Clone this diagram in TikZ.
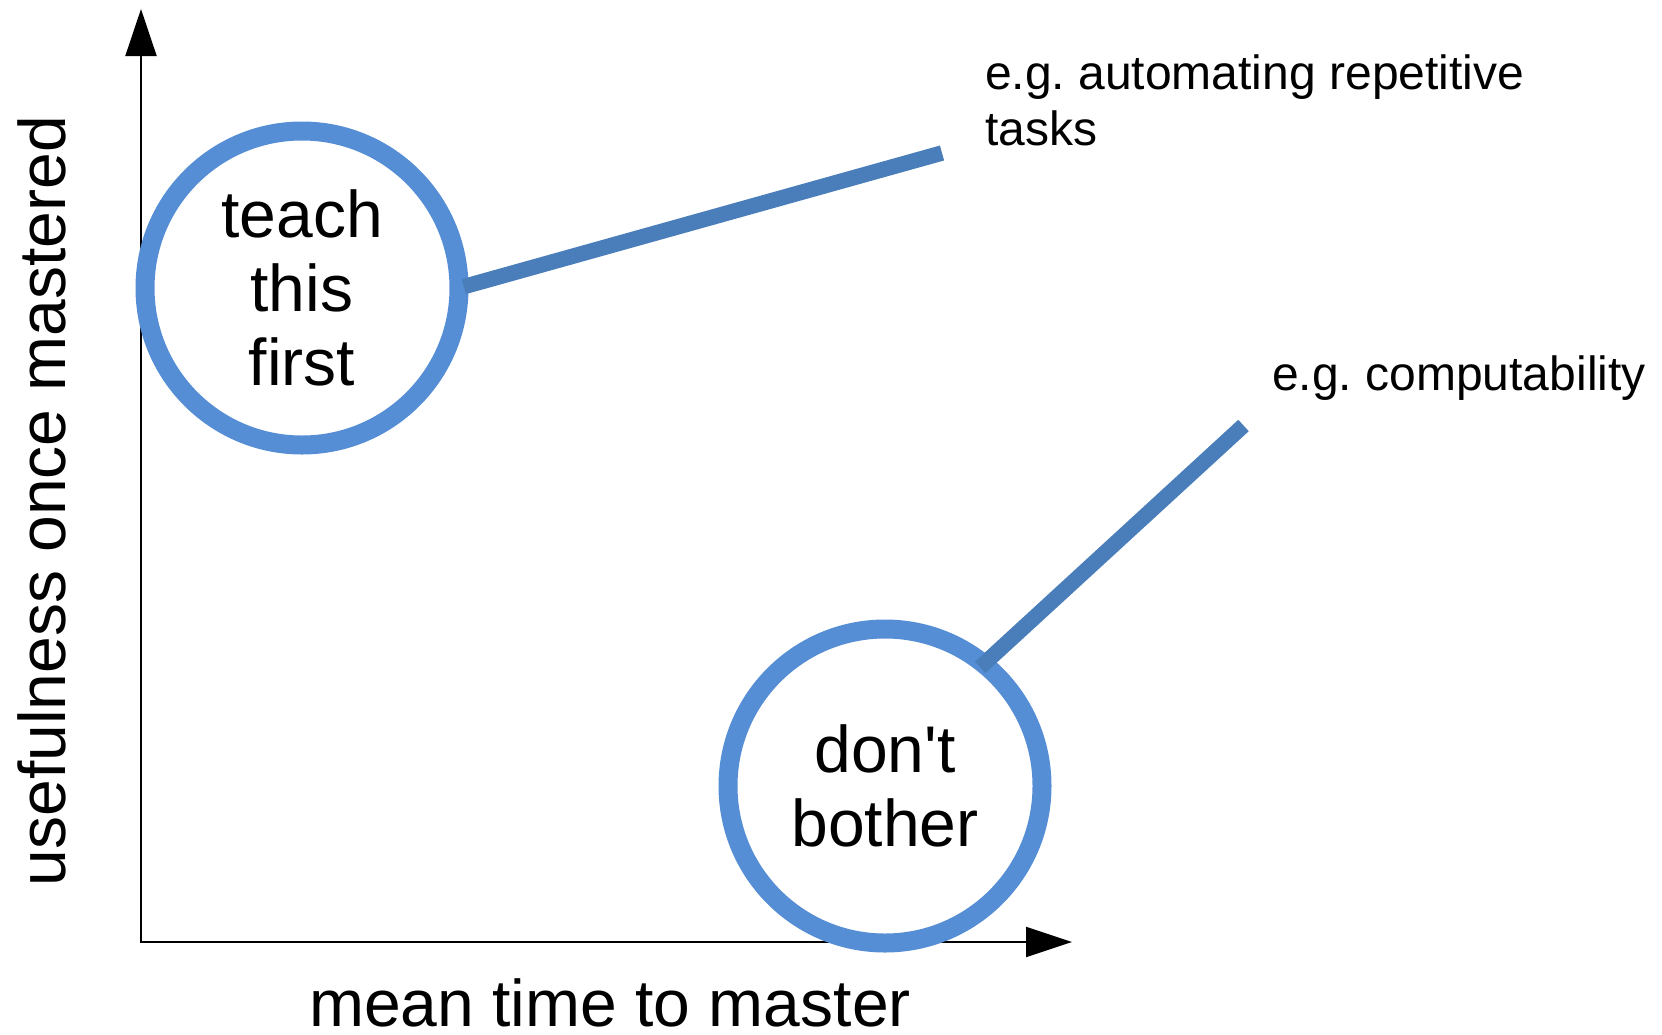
\documentclass[tikz,border=0pt]{standalone}
\usepackage{fontspec}
\setmainfont{Liberation Sans}
\usetikzlibrary{arrows.meta}
\definecolor{ringblue}{HTML}{558ED5}
\definecolor{leaderblue}{HTML}{4A7EBB}
\frenchspacing
\begin{document}
\begin{tikzpicture}[x=1pt,y=-1pt,
  axisline/.style={line width=2pt,
    {Triangle[length=47pt,width=31pt]}-{Triangle[length=46pt,width=30pt]}},
  ring/.style={circle, draw=ringblue, line width=19pt, fill=white,
    minimum size=314pt, inner sep=0pt, outer sep=0pt, align=center,
    font=\fontsize{66}{74}\selectfont},
  leader/.style={draw=leaderblue, line width=15.5pt},
  big/.style={font=\fontsize{66}{74}\selectfont, inner sep=0pt},
  note/.style={font=\fontsize{48}{56}\selectfont, inner sep=0pt, align=left}]
\useasboundingbox (0,0) rectangle (1662,1034);

% axes
\coordinate (O) at (141,942);
\coordinate (ytip) at (141,9);
\coordinate (xtip) at (1072,942);
\draw[axisline] (ytip) -- (O) -- (xtip);

% axis labels
\node[big, rotate=90, anchor=base] (ylab) at (65,501) {usefulness once mastered};
\node[big, anchor=base] (xlab) at (610,1026) {mean time to master};

% the two regions
\node[ring] (c1) at (302,288) {teach\\this\\first};
\node[ring] (c2) at (885,786) {don\textquotesingle t\\bother};

% examples and their leader lines (base anchor sits on the last line)
\node[note, anchor=base west] (n1) at (985,145) {e.g. automating repetitive\\tasks};
\node[note, anchor=base west] (n2) at (1272,390) {e.g. computability};
\coordinate (n1p) at (942,153);
\coordinate (n2p) at (1243.5,425.5);
\draw[leader, shorten <=5pt] (c1.east) -- (n1p);
\draw[leader, shorten <=-5pt] (c2.51) -- (n2p);
\end{tikzpicture}
\end{document}
